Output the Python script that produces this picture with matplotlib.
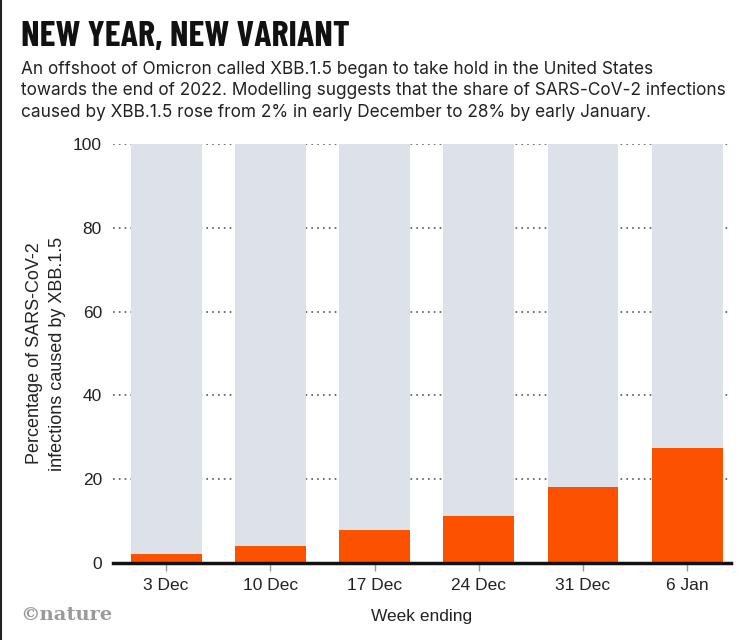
import matplotlib.pyplot as plt

weeks = ["3 Dec", "10 Dec", "17 Dec", "24 Dec", "31 Dec", "6 Jan"]
xbb_share = [2.1, 4.1, 7.9, 11.2, 18.1, 27.4]
total = [100, 100, 100, 100, 100, 100]
yticks = [0, 20, 40, 60, 80, 100]

orange = "#FC5200"
grey = "#DDE2E9"
narrow = ["Barlow Condensed", "Oswald", "Roboto Condensed",
          "Liberation Sans Narrow", "DejaVu Sans"]

plt.rcParams["font.family"] = ["Liberation Sans", "DejaVu Sans"]

fig = plt.figure(figsize=(7.44, 6.4), dpi=100)
ax = fig.add_axes([113/744, 1-563/640, (731-113)/744, (563-144)/640])

x = range(len(weeks))
# grey background bar for 100%, orange for the XBB.1.5 share
ax.bar(x, total, width=0.68, color=grey, zorder=2)
ax.bar(x, xbb_share, width=0.68, color=orange, zorder=3)

ax.set_xlim(-0.51, 5.42)
ax.set_ylim(0, 100)
ax.set_yticks(yticks)
ax.set_xticks(list(x))
ax.set_xticklabels(weeks)
for v in yticks[1:]:
    ax.axhline(v, color="#555555", lw=1.2, ls=(0, (1, 2.5)), zorder=1)

for s in ["top", "right", "left"]:
    ax.spines[s].set_visible(False)
ax.spines["bottom"].set_linewidth(2.5)
ax.spines["bottom"].set_color("#111111")
ax.spines["bottom"].set_zorder(4)
ax.tick_params(axis="y", length=0, pad=8, labelsize=12.5, labelcolor="#222222")
ax.tick_params(axis="x", length=6, width=1, color="#999999", pad=5,
               labelsize=12.5, labelcolor="#222222")

ax.set_ylabel("Percentage of SARS-CoV-2\ninfections caused by XBB.1.5",
              fontsize=13, color="#222222", labelpad=5, linespacing=1.45)
ax.set_xlabel("Week ending", fontsize=12.5, color="#222222", labelpad=11)

fig.text(21/744, 1-46/640, "NEW YEAR, NEW VARIANT", family=narrow,
         weight="bold", fontsize=26, va="baseline", ha="left", color="#111111")
fig.text(21/744, 1-61/640,
         "An offshoot of Omicron called XBB.1.5 began to take hold in the United States\n"
         "towards the end of 2022. Modelling suggests that the share of SARS-CoV-2 infections\n"
         "caused by XBB.1.5 rose from 2% in early December to 28% by early January.",
         family=["Inter", "Roboto", "Liberation Sans"], fontsize=12.4, va="top", ha="left",
         color="#222222", linespacing=1.33)
fig.text(20/744, 1-615/640, "©nature", family="DejaVu Serif", weight="bold",
         fontsize=14, color="#9a9a9a", va="center", ha="left")

# thin dark frame line at the left edge
fig.add_artist(plt.Line2D([0.002, 0.002], [0, 1], color="#222222", lw=1.5,
                          transform=fig.transFigure))

fig.savefig("out.png", dpi=100)
